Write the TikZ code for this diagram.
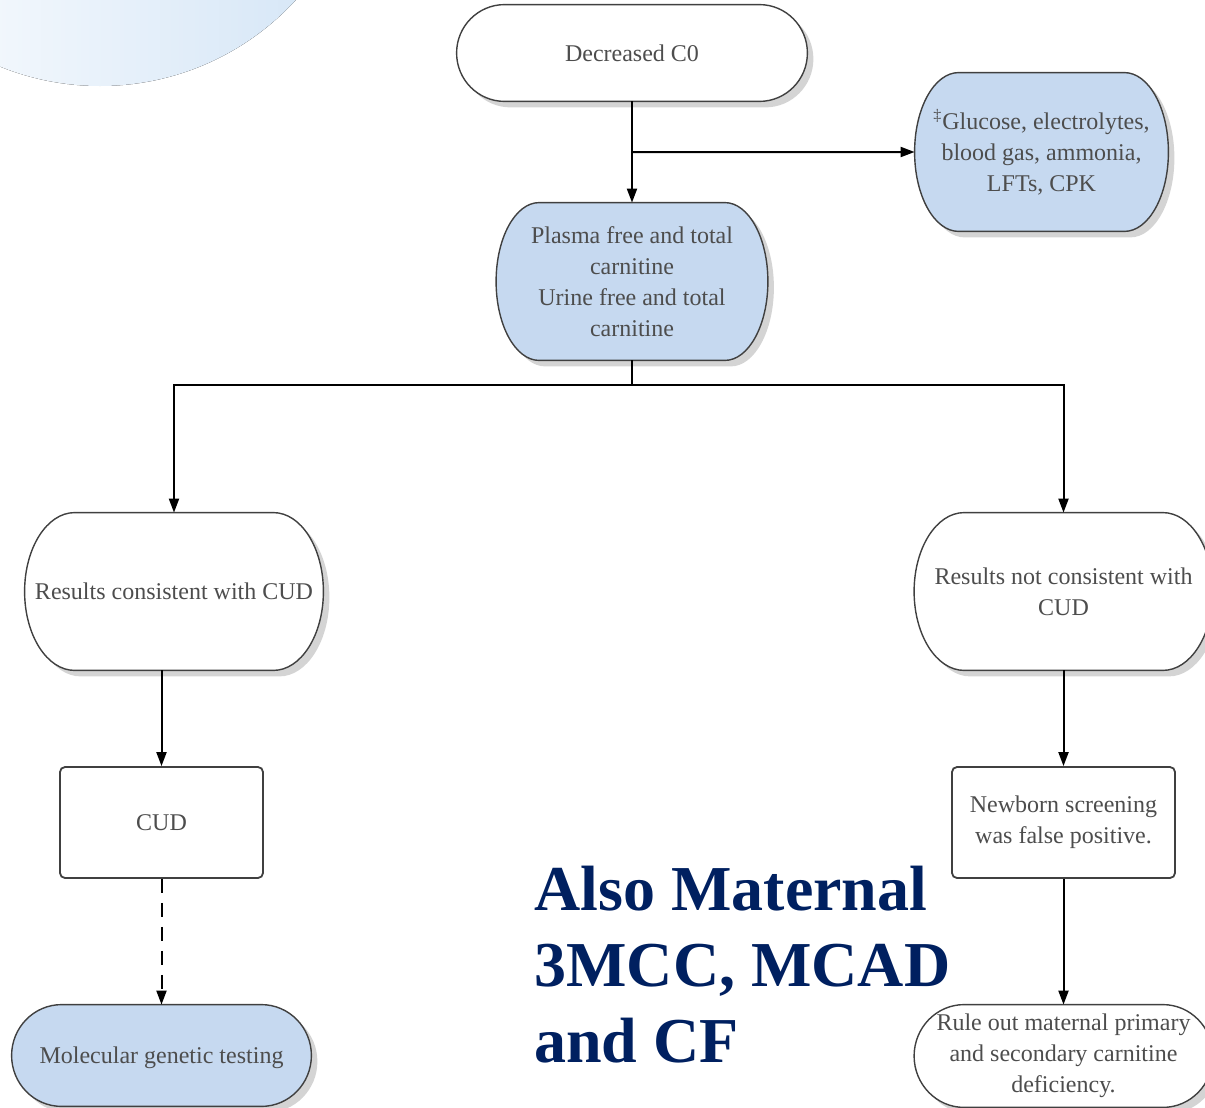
\documentclass[tikz,border=0pt]{standalone}
\usepackage{fontspec}
\setmainfont{Liberation Serif}
\usetikzlibrary{positioning,arrows.meta,calc,backgrounds,shadows}

\definecolor{boxblue}{RGB}{198,217,240}
\definecolor{edgegray}{RGB}{64,64,64}
\definecolor{txtgray}{RGB}{77,77,77}
\definecolor{navy}{RGB}{0,32,96}
\definecolor{bgblue}{RGB}{210,228,246}

\begin{document}
\begin{tikzpicture}[
  x=0.5pt, y=-0.5pt,
  term/.style={align=center, inner sep=0pt, text=txtgray, font=\fontsize{12}{15.5}\selectfont},
  outline/.style={draw=edgegray, line width=0.7pt, drop shadow={shadow xshift=3pt, shadow yshift=-3pt, opacity=1, fill=black!17}},
  box/.style={rectangle, draw=edgegray, rounded corners=2.5pt, line width=0.9pt, align=center, inner sep=0pt, text=txtgray, font=\fontsize{12}{15.5}\selectfont, fill=white},
  arrow/.style={-{Triangle[length=7pt, width=5pt]}, line width=1pt},
]
\useasboundingbox (0,0) rectangle (1205,1108);

% === top ===
\node[term, minimum width=175pt, minimum height=48pt] (start) at (632,53) {Decreased C0};
\node[term, minimum width=135.5pt, minimum height=78.5pt] (plasma) at (632,281.5)
  {Plasma free and total\\carnitine\\Urine free and total\\carnitine};
\node[term, minimum width=126.5pt, minimum height=79pt] (glucose) at (1041.5,152)
  {\textsuperscript{‡}Glucose, electrolytes,\\blood gas, ammonia,\\LFTs, CPK};

% === left branch ===
\node[term, minimum width=149pt, minimum height=78.5pt] (cons) at (174,591.5) {Results consistent with CUD};
\node[box, minimum width=101.5pt, minimum height=55.5pt] (cud) at (161.5,822.5) {CUD};
\node[term, minimum width=149.5pt, minimum height=50.5pt, text depth=0pt] (molec) at (161.5,1055.5) {Molecular genetic testing};

% === right branch ===
\node[term, minimum width=149pt, minimum height=78.5pt] (notcons) at (1063.5,591.5) {Results not consistent with\\CUD};
\node[box, minimum width=111.5pt, minimum height=55.5pt] (newborn) at (1063.5,822.5) {Newborn screening\\was false positive.};
\node[term, minimum width=149pt, minimum height=51pt] (ruleout) at (1063.5,1056)
  {Rule out maternal primary\\and secondary carnitine\\deficiency.};

\node[anchor=north west, inner sep=0pt, align=left, text=navy, font=\fontsize{32}{38}\selectfont\bfseries] (note) at (534,866)
  {Also Maternal\\3MCC, MCAD\\and CF};

% outlines behind the text
\begin{scope}[on background layer]
\fill[left color=white, right color=bgblue] (100,-180) circle[radius=133pt];
\foreach \nd/\rx/\col in {start/24pt/white, plasma/21.5pt/boxblue, glucose/22pt/boxblue, cons/25pt/white,
    notcons/25pt/white, molec/25pt/boxblue, ruleout/25pt/white}{
  \path[outline, fill=\col] let \p1=(\nd.north west), \p2=(\nd.south east), \n1={(\y1-\y2)/2} in
    (\x1+\rx,\y1) -- (\x2-\rx,\y1)
    arc[start angle=90, end angle=-90, x radius=\rx, y radius=\n1]
    -- (\x1+\rx,\y2)
    arc[start angle=270, end angle=90, x radius=\rx, y radius=\n1] -- cycle;
}
\end{scope}

% connectors
\coordinate (fork) at ($(start.south)!0.5!(plasma.north)$);
\draw[arrow] (start.south) -- (plasma.north);
\draw[arrow] (fork) -- (glucose.west);
\draw[line width=1pt] (plasma.south) -- ++(0,25) coordinate (split);
\draw[arrow] (split) -| (cons.north);
\draw[arrow] (split) -| (notcons.north);
\draw[arrow] (cons.south -| cud.north) -- (cud.north);
\draw[arrow, dash pattern=on 7pt off 5pt] (cud.south) -- (molec.north);
\draw[arrow] (notcons.south) -- (newborn.north);
\draw[arrow] (newborn.south) -- (ruleout.north);

\end{tikzpicture}
\end{document}
